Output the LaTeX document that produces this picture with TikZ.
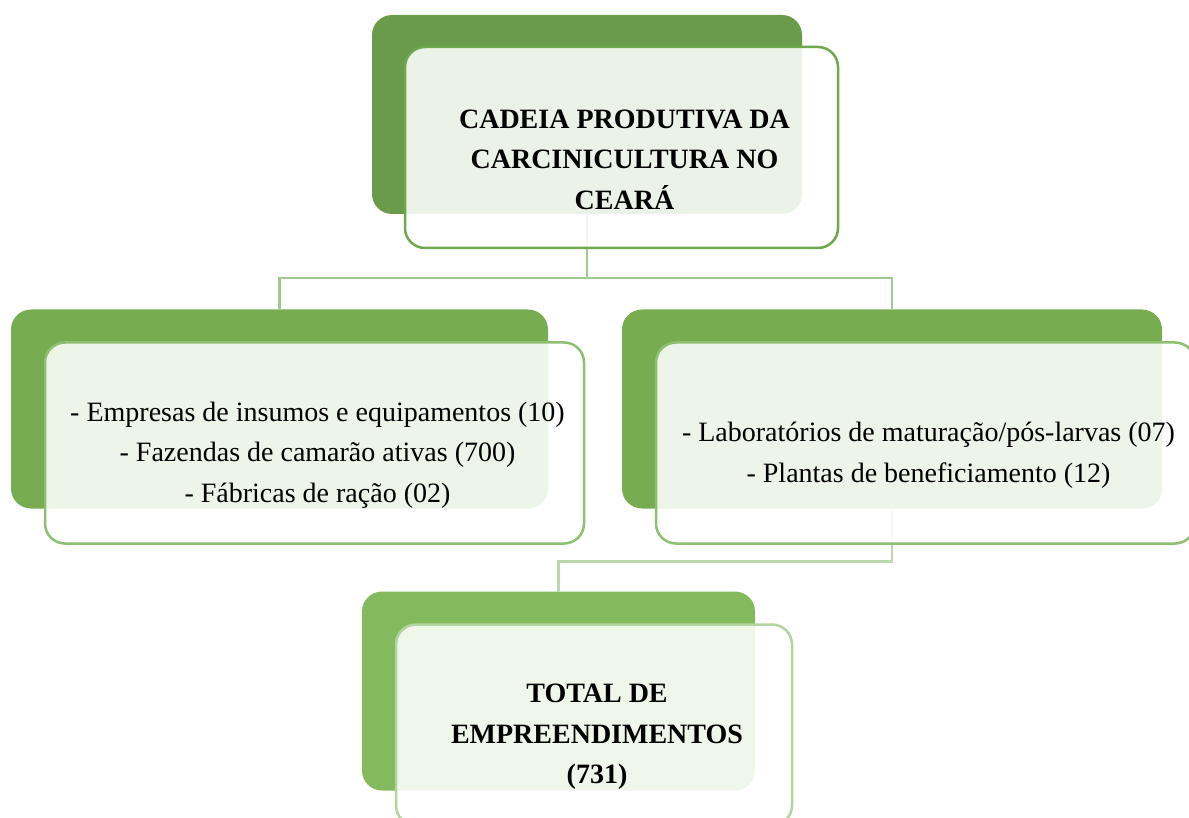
\documentclass[tikz,border=0pt]{standalone}
\usepackage{fontspec}
\setmainfont{Liberation Serif}
\definecolor{gdark}{HTML}{6A9B4A}
\definecolor{gmid}{HTML}{77AC50}
\definecolor{glight}{HTML}{84BA5E}
\definecolor{edark}{HTML}{6FA84F}
\definecolor{emid}{HTML}{8EC071}
\definecolor{elight}{HTML}{B3D3A0}
\definecolor{lnktop}{HTML}{A2C98F}
\definecolor{lnkbot}{HTML}{BAD8AB}
\begin{document}
\begin{tikzpicture}[
    x=1pt, y=-1pt,
    back/.style={rectangle, rounded corners=20pt, inner sep=0pt, outer sep=0pt, minimum height=199pt},
    front/.style={rectangle, rounded corners=20pt, draw, line width=2.5pt, fill=white, fill opacity=0.87, inner sep=0pt, outer sep=0pt, minimum height=201pt},
    link/.style={line width=2.2pt},
    label/.style={align=center, text opacity=1, font=\fontsize{28}{40.5}\selectfont, xshift=3pt, yshift=-12pt}
]
\useasboundingbox (0,0) rectangle (1189,818);

% back boxes
\node[back, fill=gdark, minimum width=430pt] (topback) at (587,114.5) {};
\node[back, fill=gmid, minimum width=537pt] (leftback) at (279.5,409) {};
\node[back, fill=gmid, minimum width=540pt] (rightback) at (892,409) {};
\node[back, fill=glight, minimum width=393pt] (botback) at (558.5,691) {};

% connectors
\draw[link, lnktop] (topback.south) -- ++(0,64) -| (leftback.north);
\draw[link, lnktop] (topback.south) -- ++(0,64) -| (rightback.north);
\draw[link, lnkbot] (rightback.south) -- ++(0,53) -| (botback.north);

% front boxes
\node[front, draw=edark, minimum width=433pt] (topfront) at (621.5,147.5) {};
\node[front, draw=emid, minimum width=539pt] (leftfront) at (314.5,443) {};
\node[front, draw=emid, minimum width=539pt] (rightfront) at (925.5,443) {};
\node[front, draw=elight, minimum width=396pt] (botfront) at (594,725) {};

\node[label, font=\fontsize{28}{40.5}\selectfont\bfseries] (toptext) at (topfront.center)
  {CADEIA PRODUTIVA DA\\CARCINICULTURA NO\\CEARÁ};
\node[label] (lefttext) at (leftfront.center)
  {- Empresas de insumos e equipamentos (10)\\- Fazendas de camarão ativas (700)\\- Fábricas de ração (02)};
\node[label] (righttext) at (rightfront.center)
  {- Laboratórios de maturação/pós-larvas (07)\\- Plantas de beneficiamento (12)};
\node[label, font=\fontsize{28}{40.5}\selectfont\bfseries] (bottext) at (botfront.center)
  {TOTAL DE\\EMPREENDIMENTOS\\(731)};

\end{tikzpicture}
\end{document}
